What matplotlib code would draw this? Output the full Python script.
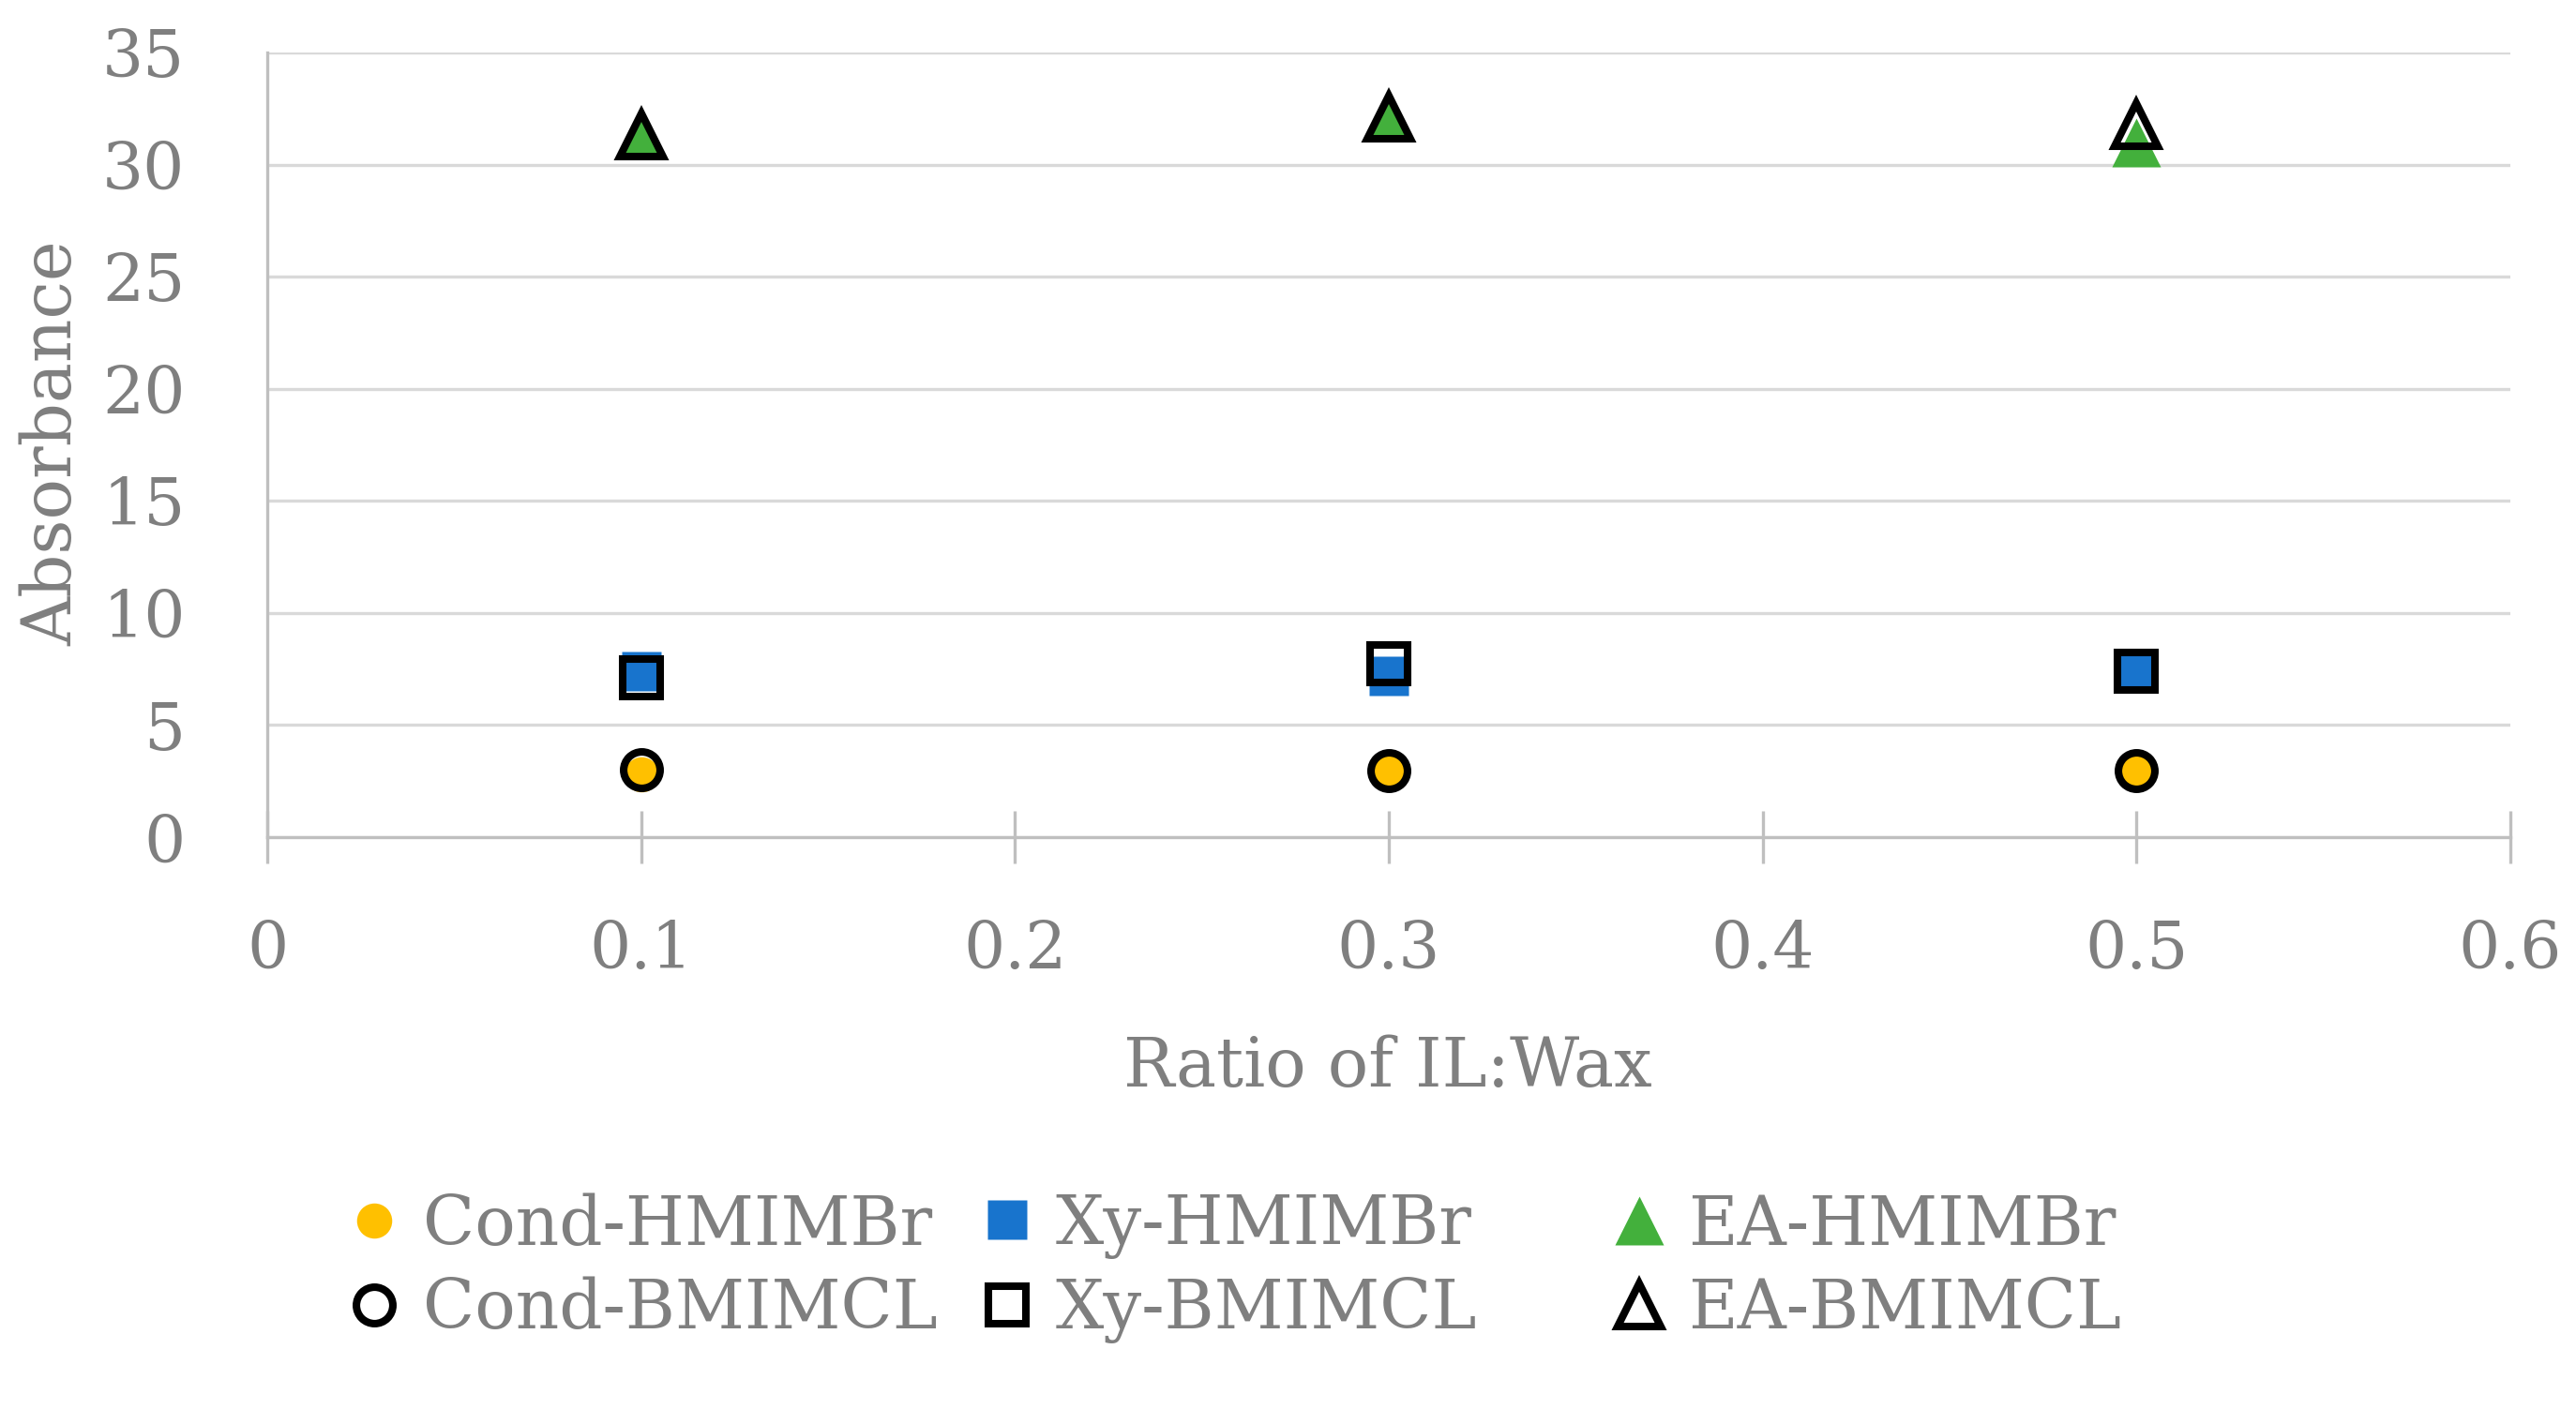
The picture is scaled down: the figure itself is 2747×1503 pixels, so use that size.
import matplotlib
matplotlib.use("Agg")
import matplotlib.pyplot as plt

# ---- data ----
ratios = [0.1, 0.3, 0.5]
cond_hmimbr = [2.8, 2.95, 3.05]
xy_hmimbr = [7.4, 7.2, 7.45]
ea_hmimbr = [31.3, 32.1, 31.0]
cond_bmimcl = [3.0, 2.95, 2.95]
xy_bmimcl = [7.1, 7.75, 7.4]
ea_bmimcl = [31.3, 32.1, 31.8]
x_ticks = [0, 0.1, 0.2, 0.3, 0.4, 0.5, 0.6]
x_tick_labels = ["0", "0.1", "0.2", "0.3", "0.4", "0.5", "0.6"]
y_ticks = [0, 5, 10, 15, 20, 25, 30, 35]
y_tick_labels = ["0", "5", "10", "15", "20", "25", "30", "35"]

plt.rcParams['font.family'] = ['DejaVu Serif']
TXT = '#7f7f7f'
FS = 50
FSL = 52

W, H = 2747, 1503
fig = plt.figure(figsize=(W / 100, H / 100), dpi=100)
L, R, T, B = 285, 2677, 56, 893
ax = fig.add_axes([L / W, 1 - B / H, (R - L) / W, (B - T) / H])

ax.set_xlim(0, 0.6)
ax.set_ylim(0, 35)
ax.set_xticks(x_ticks)
ax.set_xticklabels(x_tick_labels)
ax.set_yticks(y_ticks)
ax.set_yticklabels(y_tick_labels)

for s in ['top', 'right']:
    ax.spines[s].set_visible(False)
for s in ['left', 'bottom']:
    ax.spines[s].set_color('#bfbfbf')
    ax.spines[s].set_linewidth(2.4)
ax.yaxis.grid(True, color='#d9d9d9', linewidth=2.4)
ax.xaxis.grid(False)
ax.set_axisbelow(True)

ax.tick_params(axis='y', length=0, pad=63, labelsize=FS, labelcolor=TXT)
ax.tick_params(axis='x', direction='inout', length=40, width=2.4, color='#bfbfbf',
               pad=43, labelsize=FS, labelcolor=TXT)

EW = 5.8
h1, = ax.plot(ratios, cond_hmimbr, ls='none', marker='o', ms=27, mfc='#ffc000', mec='none',
              clip_on=False, zorder=3, label='Cond-HMIMBr')
h2, = ax.plot(ratios, xy_hmimbr, ls='none', marker='s', ms=30, mfc='#1874cd', mec='none',
              clip_on=False, zorder=3, label='Xy-HMIMBr')
h3, = ax.plot(ratios, ea_hmimbr, ls='none', marker='^', ms=38, mfc='#43b03c', mec='none',
              clip_on=False, zorder=3, label='EA-HMIMBr')
h4, = ax.plot(ratios, cond_bmimcl, ls='none', marker='o', ms=28, mfc='none', mec='black',
              mew=EW, clip_on=False, zorder=4, label='Cond-BMIMCL')
h5, = ax.plot(ratios, xy_bmimcl, ls='none', marker='s', ms=29, mfc='none', mec='black',
              mew=EW, clip_on=False, zorder=4, label='Xy-BMIMCL')
h6, = ax.plot(ratios, ea_bmimcl, ls='none', marker='^', ms=33, mfc='none', mec='black',
              mew=EW, clip_on=False, zorder=4, label='EA-BMIMCL')

ax.set_ylabel('Absorbance', fontsize=FSL, color=TXT, va='center')
ax.yaxis.set_label_coords((56 - L) / (R - L), (B - 473) / (B - T))
ax.set_xlabel('Ratio of IL:Wax', fontsize=FSL, color=TXT, va='center')
ax.xaxis.set_label_coords((1480 - L) / (R - L), (B - 1139) / (B - T))

em = FSL * 100 / 72
hl = 0.8
for (ha, hb), mx in zip([(h1, h4), (h2, h5), (h3, h6)], [399, 1074, 1748]):
    fig.legend([ha, hb], [ha.get_label(), hb.get_label()], loc='center left',
               bbox_to_anchor=((mx - hl * em / 2) / W, 1 - 1352 / H),
               frameon=False, fontsize=FSL, labelcolor=TXT, handlelength=hl,
               handletextpad=0.32, borderpad=0, borderaxespad=0, labelspacing=0.26,
               numpoints=1)

fig.savefig('out.png', dpi=100, facecolor='white')
